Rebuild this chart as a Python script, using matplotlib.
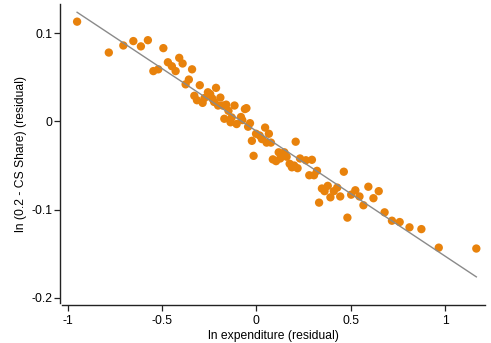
import numpy as np
import matplotlib.pyplot as plt

plt.rcParams['font.family'] = ['Liberation Sans', 'DejaVu Sans']

# residualised log expenditure (x) and ln(0.2 - CS share) (y)
ln_expenditure = [
    -0.950, -0.782, -0.705, -0.652, -0.612, -0.575, -0.493, -0.546, -0.520, -0.469,
    -0.448, -0.428, -0.409, -0.391, -0.341, -0.358, -0.375, -0.300, -0.329, -0.315,
    -0.285, -0.275, -0.257, -0.245, -0.234, -0.214, -0.191, -0.224, -0.203, -0.179,
    -0.160, -0.148, -0.116, -0.170, -0.131, -0.137, -0.105, -0.082, -0.075, -0.061,
    -0.053, -0.034, -0.044, -0.024, -0.015, -0.002, 0.017, 0.029, 0.046, 0.066,
    0.054, 0.077, 0.208, 0.118, 0.148, 0.087, 0.104, 0.126, 0.160, 0.176,
    0.188, 0.200, 0.218, 0.231, 0.262, 0.294, 0.321, 0.280, 0.305, 0.463,
    0.347, 0.361, 0.378, 0.410, 0.428, 0.392, 0.444, 0.332, 0.502, 0.524,
    0.546, 0.593, 0.648, 0.620, 0.567, 0.482, 0.679, 0.718, 0.759, 0.811,
    0.874, 0.966, 1.165,
]
ln_cs_share = [
    0.113, 0.078, 0.086, 0.091, 0.085, 0.092, 0.083, 0.057, 0.059, 0.067,
    0.0625, 0.057, 0.072, 0.0656, 0.059, 0.0474, 0.042, 0.041, 0.029, 0.024,
    0.021, 0.0265, 0.033, 0.031, 0.026, 0.038, 0.027, 0.022, 0.018, 0.018,
    0.019, 0.012, 0.018, 0.003, 0.0045, -0.001, -0.003, 0.005, 0.0015, 0.014,
    0.015, -0.002, -0.006, -0.022, -0.039, -0.014, -0.016, -0.020, -0.007, -0.014,
    -0.024, -0.024, -0.023, -0.035, -0.035, -0.043, -0.045, -0.042, -0.040, -0.048,
    -0.052, -0.050, -0.053, -0.042, -0.044, -0.0435, -0.056, -0.061, -0.061, -0.057,
    -0.076, -0.079, -0.073, -0.079, -0.075, -0.086, -0.085, -0.092, -0.083, -0.078,
    -0.085, -0.074, -0.079, -0.087, -0.095, -0.109, -0.103, -0.1125, -0.114, -0.120,
    -0.122, -0.143, -0.144,
]

# linear fit shown on the chart
fit_slope = -0.1417
fit_intercept = -0.011

x_ticks = [-1, -0.5, 0, 0.5, 1]
x_tick_labels = ['-1', '-0.5', '0', '0.5', '1']
y_ticks = [-0.2, -0.1, 0, 0.1]
y_tick_labels = ['-0.2', '-0.1', '0', '0.1']

x = np.array(ln_expenditure)
y = np.array(ln_cs_share)

fig = plt.figure(figsize=(4.91, 3.43), dpi=100)
ax = fig.add_axes([62 / 491, (343 - 303) / 343, (485 - 62) / 491, (303 - 4) / 343])

ax.scatter(x, y, s=36, color='#E8820C', edgecolors='none', zorder=2)

x_fit = np.array([x.min(), x.max()])
ax.plot(x_fit, fit_intercept + fit_slope * x_fit, color='#8a8a8a', linewidth=1.0, zorder=3)

ax.set_xlim(-1.030, 1.211)
ax.set_ylim(-0.2057, 0.1330)

ax.set_xticks(x_ticks)
ax.set_xticklabels(x_tick_labels)
ax.set_yticks(y_ticks)
ax.set_yticklabels(y_tick_labels)

for side in ['top', 'right']:
    ax.spines[side].set_visible(False)
for side in ['left', 'bottom']:
    ax.spines[side].set_position(('outward', 1.5))
    ax.spines[side].set_linewidth(1.0)
    ax.spines[side].set_color('#222222')

ax.tick_params(direction='out', length=4, width=0.9, color='#222222',
               labelsize=8.7, pad=1.5)
ax.tick_params(axis='x', pad=3)

ax.set_xlabel('ln expenditure (residual)', fontsize=8.7, labelpad=2)
ax.set_ylabel('ln (0.2 - CS Share) (residual)', fontsize=8.7, labelpad=3)

fig.savefig('out.png', dpi=100)
